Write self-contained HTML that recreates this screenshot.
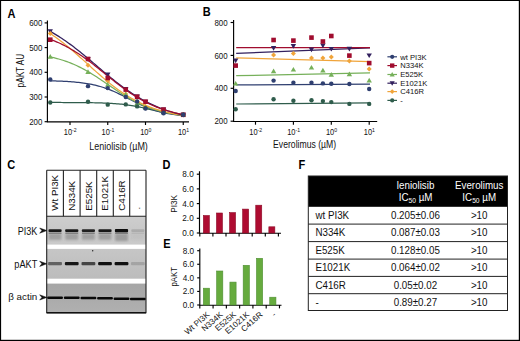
<!DOCTYPE html>
<html><head><meta charset="utf-8"><style>
html,body{margin:0;padding:0;background:#fff;}
body{width:520px;height:341px;overflow:hidden;}
svg{display:block;font-family:"Liberation Sans", sans-serif;}

</style></head><body>
<svg width="520" height="341" viewBox="0 0 520 341" font-family='"Liberation Sans", sans-serif'>
<rect x="0" y="0" width="520" height="341" fill="#fff"/>
<defs><filter id="bl" x="-20%" y="-80%" width="140%" height="260%"><feGaussianBlur stdDeviation="0.6"/></filter><filter id="bl2" x="-20%" y="-80%" width="140%" height="260%"><feGaussianBlur stdDeviation="1.1"/></filter><linearGradient id="g1" x1="0" y1="0" x2="0" y2="1"><stop offset="0" stop-color="#cecece"/><stop offset="0.6" stop-color="#c6c6c6"/><stop offset="1" stop-color="#cacaca"/></linearGradient><linearGradient id="g2" x1="0" y1="0" x2="0" y2="1"><stop offset="0" stop-color="#c6c6c6"/><stop offset="1" stop-color="#bcbcbc"/></linearGradient><linearGradient id="g3" x1="0" y1="0" x2="0" y2="1"><stop offset="0" stop-color="#a6a6a6"/><stop offset="1" stop-color="#b0b0b0"/></linearGradient></defs>
<text transform="translate(7.5,17.5) scale(0.92,1)" font-size="12" font-weight="bold" fill="#000">A</text>
<text transform="translate(202.8,16.0) scale(0.92,1)" font-size="12" font-weight="bold" fill="#000">B</text>
<text transform="translate(7.2,168.8) scale(0.92,1)" font-size="12" font-weight="bold" fill="#000">C</text>
<text transform="translate(162.4,168.9) scale(0.92,1)" font-size="12" font-weight="bold" fill="#000">D</text>
<text transform="translate(163.3,248.2) scale(0.92,1)" font-size="12" font-weight="bold" fill="#000">E</text>
<text transform="translate(298.4,169.0) scale(0.92,1)" font-size="12" font-weight="bold" fill="#000">F</text>
<g stroke="#000" stroke-width="1.15" fill="none">
<path d="M47.4,20.4 V121.9 H189"/>
<path d="M44.6,22.90 H47.4"/>
<path d="M44.6,47.60 H47.4"/>
<path d="M44.6,72.30 H47.4"/>
<path d="M44.6,97.00 H47.4"/>
<path d="M44.6,121.70 H47.4"/>
<path d="M70.00,121.9 V125.0"/>
<path d="M107.75,121.9 V125.0"/>
<path d="M145.50,121.9 V125.0"/>
<path d="M183.25,121.9 V125.0"/>
</g>
<text transform="translate(42.40,26.00) scale(0.92,1)" font-size="8.6" fill="#111" text-anchor="end">600</text>
<text transform="translate(42.40,50.70) scale(0.92,1)" font-size="8.6" fill="#111" text-anchor="end">500</text>
<text transform="translate(42.40,75.40) scale(0.92,1)" font-size="8.6" fill="#111" text-anchor="end">400</text>
<text transform="translate(42.40,100.10) scale(0.92,1)" font-size="8.6" fill="#111" text-anchor="end">300</text>
<text transform="translate(42.40,124.80) scale(0.92,1)" font-size="8.6" fill="#111" text-anchor="end">200</text>
<text transform="translate(70.20,135.1) scale(0.9,1)" font-size="8.3" fill="#111" text-anchor="middle">10<tspan font-size="5.7" dy="-3.3">-2</tspan></text>
<text transform="translate(107.95,135.1) scale(0.9,1)" font-size="8.3" fill="#111" text-anchor="middle">10<tspan font-size="5.7" dy="-3.3">-1</tspan></text>
<text transform="translate(145.70,135.1) scale(0.9,1)" font-size="8.3" fill="#111" text-anchor="middle">10<tspan font-size="5.7" dy="-3.3">0</tspan></text>
<text transform="translate(183.45,135.1) scale(0.9,1)" font-size="8.3" fill="#111" text-anchor="middle">10<tspan font-size="5.7" dy="-3.3">1</tspan></text>
<text x="118.6" y="149.5" font-size="10.2" fill="#111" text-anchor="middle" textLength="58.5" lengthAdjust="spacingAndGlyphs">Leniolisib (µM)</text>
<text transform="translate(24.0,70.6) rotate(-90)" font-size="10.3" fill="#111" text-anchor="middle" textLength="33.6" lengthAdjust="spacingAndGlyphs">pAKT AU</text>
<path d="M50.37,102.48 L52.03,102.48 L53.69,102.48 L55.35,102.48 L57.01,102.49 L58.68,102.49 L60.34,102.49 L62.00,102.50 L63.66,102.50 L65.32,102.51 L66.98,102.51 L68.64,102.52 L70.30,102.52 L71.96,102.53 L73.62,102.54 L75.28,102.55 L76.95,102.56 L78.61,102.57 L80.27,102.58 L81.93,102.59 L83.59,102.61 L85.25,102.63 L86.91,102.65 L88.57,102.67 L90.23,102.69 L91.90,102.72 L93.56,102.75 L95.22,102.78 L96.88,102.82 L98.54,102.86 L100.20,102.91 L101.86,102.96 L103.52,103.02 L105.18,103.08 L106.84,103.15 L108.50,103.23 L110.17,103.32 L111.83,103.42 L113.49,103.52 L115.15,103.64 L116.81,103.77 L118.47,103.91 L120.13,104.06 L121.79,104.23 L123.45,104.41 L125.11,104.61 L126.78,104.83 L128.44,105.06 L130.10,105.31 L131.76,105.57 L133.42,105.85 L135.08,106.15 L136.74,106.47 L138.40,106.80 L140.06,107.15 L141.72,107.50 L143.39,107.87 L145.05,108.25 L146.71,108.64 L148.37,109.03 L150.03,109.42 L151.69,109.81 L153.35,110.20 L155.01,110.58 L156.67,110.95 L158.34,111.32 L160.00,111.67 L161.66,112.01 L163.32,112.34 L164.98,112.65 L166.64,112.94 L168.30,113.22 L169.96,113.48 L171.62,113.72 L173.28,113.95 L174.94,114.16 L176.61,114.35 L178.27,114.53 L179.93,114.69 L181.59,114.84 L183.25,114.98" stroke="#2f5c4c" stroke-width="1.25" fill="none"/>
<path d="M50.37,80.82 L52.03,80.86 L53.69,80.91 L55.35,80.96 L57.01,81.02 L58.68,81.08 L60.34,81.14 L62.00,81.22 L63.66,81.30 L65.32,81.38 L66.98,81.48 L68.64,81.58 L70.30,81.70 L71.96,81.82 L73.62,81.96 L75.28,82.10 L76.95,82.26 L78.61,82.44 L80.27,82.62 L81.93,82.83 L83.59,83.05 L85.25,83.29 L86.91,83.55 L88.57,83.84 L90.23,84.14 L91.90,84.47 L93.56,84.82 L95.22,85.20 L96.88,85.60 L98.54,86.03 L100.20,86.50 L101.86,86.99 L103.52,87.51 L105.18,88.06 L106.84,88.65 L108.50,89.26 L110.17,89.91 L111.83,90.58 L113.49,91.29 L115.15,92.02 L116.81,92.78 L118.47,93.56 L120.13,94.36 L121.79,95.18 L123.45,96.01 L125.11,96.86 L126.78,97.72 L128.44,98.58 L130.10,99.44 L131.76,100.30 L133.42,101.15 L135.08,101.99 L136.74,102.82 L138.40,103.63 L140.06,104.42 L141.72,105.20 L143.39,105.94 L145.05,106.66 L146.71,107.35 L148.37,108.01 L150.03,108.65 L151.69,109.25 L153.35,109.82 L155.01,110.36 L156.67,110.87 L158.34,111.35 L160.00,111.80 L161.66,112.22 L163.32,112.61 L164.98,112.98 L166.64,113.32 L168.30,113.63 L169.96,113.93 L171.62,114.20 L173.28,114.45 L174.94,114.69 L176.61,114.90 L178.27,115.10 L179.93,115.28 L181.59,115.45 L183.25,115.60" stroke="#2f3f70" stroke-width="1.25" fill="none"/>
<path d="M50.37,56.95 L52.03,57.31 L53.69,57.70 L55.35,58.11 L57.01,58.54 L58.68,59.00 L60.34,59.48 L62.00,59.98 L63.66,60.52 L65.32,61.08 L66.98,61.66 L68.64,62.28 L70.30,62.92 L71.96,63.59 L73.62,64.29 L75.28,65.02 L76.95,65.78 L78.61,66.58 L80.27,67.40 L81.93,68.25 L83.59,69.12 L85.25,70.03 L86.91,70.97 L88.57,71.93 L90.23,72.91 L91.90,73.93 L93.56,74.96 L95.22,76.01 L96.88,77.09 L98.54,78.17 L100.20,79.28 L101.86,80.40 L103.52,81.52 L105.18,82.66 L106.84,83.80 L108.50,84.94 L110.17,86.08 L111.83,87.22 L113.49,88.35 L115.15,89.47 L116.81,90.59 L118.47,91.69 L120.13,92.77 L121.79,93.84 L123.45,94.89 L125.11,95.92 L126.78,96.92 L128.44,97.90 L130.10,98.86 L131.76,99.79 L133.42,100.69 L135.08,101.56 L136.74,102.40 L138.40,103.21 L140.06,104.00 L141.72,104.75 L143.39,105.47 L145.05,106.17 L146.71,106.83 L148.37,107.47 L150.03,108.08 L151.69,108.65 L153.35,109.21 L155.01,109.73 L156.67,110.23 L158.34,110.71 L160.00,111.16 L161.66,111.58 L163.32,111.99 L164.98,112.37 L166.64,112.73 L168.30,113.07 L169.96,113.40 L171.62,113.70 L173.28,113.99 L174.94,114.26 L176.61,114.51 L178.27,114.75 L179.93,114.98 L181.59,115.19 L183.25,115.39" stroke="#76b05a" stroke-width="1.25" fill="none"/>
<path d="M50.37,33.72 L52.03,34.82 L53.69,35.94 L55.35,37.10 L57.01,38.28 L58.68,39.50 L60.34,40.74 L62.00,42.01 L63.66,43.30 L65.32,44.62 L66.98,45.96 L68.64,47.33 L70.30,48.72 L71.96,50.13 L73.62,51.55 L75.28,53.00 L76.95,54.45 L78.61,55.93 L80.27,57.41 L81.93,58.90 L83.59,60.40 L85.25,61.90 L86.91,63.40 L88.57,64.91 L90.23,66.41 L91.90,67.92 L93.56,69.41 L95.22,70.90 L96.88,72.38 L98.54,73.84 L100.20,75.30 L101.86,76.73 L103.52,78.15 L105.18,79.55 L106.84,80.93 L108.50,82.29 L110.17,83.63 L111.83,84.94 L113.49,86.22 L115.15,87.48 L116.81,88.71 L118.47,89.92 L120.13,91.09 L121.79,92.23 L123.45,93.35 L125.11,94.43 L126.78,95.48 L128.44,96.50 L130.10,97.50 L131.76,98.46 L133.42,99.39 L135.08,100.29 L136.74,101.15 L138.40,101.99 L140.06,102.80 L141.72,103.58 L143.39,104.34 L145.05,105.06 L146.71,105.76 L148.37,106.43 L150.03,107.07 L151.69,107.69 L153.35,108.28 L155.01,108.85 L156.67,109.40 L158.34,109.92 L160.00,110.42 L161.66,110.90 L163.32,111.36 L164.98,111.79 L166.64,112.21 L168.30,112.61 L169.96,113.00 L171.62,113.36 L173.28,113.71 L174.94,114.04 L176.61,114.36 L178.27,114.66 L179.93,114.95 L181.59,115.23 L183.25,115.49" stroke="#f0a43a" stroke-width="1.25" fill="none"/>
<path d="M50.37,31.45 L52.03,32.39 L53.69,33.35 L55.35,34.34 L57.01,35.35 L58.68,36.39 L60.34,37.46 L62.00,38.55 L63.66,39.67 L65.32,40.81 L66.98,41.98 L68.64,43.17 L70.30,44.38 L71.96,45.61 L73.62,46.87 L75.28,48.15 L76.95,49.44 L78.61,50.75 L80.27,52.08 L81.93,53.43 L83.59,54.78 L85.25,56.16 L86.91,57.54 L88.57,58.93 L90.23,60.33 L91.90,61.73 L93.56,63.14 L95.22,64.56 L96.88,65.97 L98.54,67.38 L100.20,68.80 L101.86,70.20 L103.52,71.61 L105.18,73.00 L106.84,74.39 L108.50,75.76 L110.17,77.13 L111.83,78.48 L113.49,79.81 L115.15,81.13 L116.81,82.44 L118.47,83.72 L120.13,84.99 L121.79,86.23 L123.45,87.45 L125.11,88.66 L126.78,89.83 L128.44,90.99 L130.10,92.11 L131.76,93.22 L133.42,94.30 L135.08,95.35 L136.74,96.38 L138.40,97.38 L140.06,98.35 L141.72,99.30 L143.39,100.22 L145.05,101.11 L146.71,101.98 L148.37,102.82 L150.03,103.63 L151.69,104.42 L153.35,105.18 L155.01,105.92 L156.67,106.63 L158.34,107.32 L160.00,107.99 L161.66,108.63 L163.32,109.25 L164.98,109.85 L166.64,110.42 L168.30,110.97 L169.96,111.50 L171.62,112.02 L173.28,112.51 L174.94,112.98 L176.61,113.44 L178.27,113.87 L179.93,114.29 L181.59,114.69 L183.25,115.08" stroke="#32205e" stroke-width="1.25" fill="none"/>
<path d="M50.37,39.44 L52.03,40.06 L53.69,40.70 L55.35,41.37 L57.01,42.07 L58.68,42.79 L60.34,43.55 L62.00,44.33 L63.66,45.15 L65.32,45.99 L66.98,46.87 L68.64,47.77 L70.30,48.70 L71.96,49.67 L73.62,50.66 L75.28,51.68 L76.95,52.73 L78.61,53.81 L80.27,54.92 L81.93,56.05 L83.59,57.21 L85.25,58.39 L86.91,59.60 L88.57,60.83 L90.23,62.07 L91.90,63.34 L93.56,64.62 L95.22,65.92 L96.88,67.23 L98.54,68.55 L100.20,69.89 L101.86,71.22 L103.52,72.56 L105.18,73.91 L106.84,75.25 L108.50,76.59 L110.17,77.93 L111.83,79.26 L113.49,80.58 L115.15,81.89 L116.81,83.19 L118.47,84.47 L120.13,85.73 L121.79,86.98 L123.45,88.21 L125.11,89.41 L126.78,90.59 L128.44,91.75 L130.10,92.88 L131.76,93.98 L133.42,95.06 L135.08,96.11 L136.74,97.12 L138.40,98.11 L140.06,99.08 L141.72,100.01 L143.39,100.91 L145.05,101.78 L146.71,102.62 L148.37,103.43 L150.03,104.21 L151.69,104.96 L153.35,105.69 L155.01,106.38 L156.67,107.05 L158.34,107.69 L160.00,108.30 L161.66,108.89 L163.32,109.46 L164.98,109.99 L166.64,110.51 L168.30,111.00 L169.96,111.47 L171.62,111.92 L173.28,112.34 L174.94,112.75 L176.61,113.14 L178.27,113.50 L179.93,113.86 L181.59,114.19 L183.25,114.51" stroke="#a00c2e" stroke-width="1.25" fill="none"/>
<path d="M50.26,34.00 L52.96,29.27 L47.56,29.27Z" fill="#32205e"/>
<path d="M88.01,61.66 L90.71,56.94 L85.31,56.94Z" fill="#32205e"/>
<path d="M107.75,77.22 L110.45,72.50 L105.05,72.50Z" fill="#32205e"/>
<path d="M125.76,91.80 L128.46,87.07 L123.06,87.07Z" fill="#32205e"/>
<path d="M137.13,99.21 L139.83,94.48 L134.43,94.48Z" fill="#32205e"/>
<path d="M145.50,104.39 L148.20,99.67 L142.80,99.67Z" fill="#32205e"/>
<path d="M163.51,112.30 L166.21,107.57 L160.81,107.57Z" fill="#32205e"/>
<path d="M183.25,117.48 L185.95,112.76 L180.55,112.76Z" fill="#32205e"/>
<path d="M50.26,31.02 L52.76,33.52 L50.26,36.02 L47.76,33.52Z" fill="#f0a43a"/>
<path d="M88.01,62.64 L90.51,65.14 L88.01,67.64 L85.51,65.14Z" fill="#f0a43a"/>
<path d="M107.75,78.44 L110.25,80.94 L107.75,83.44 L105.25,80.94Z" fill="#f0a43a"/>
<path d="M125.76,91.54 L128.26,94.04 L125.76,96.54 L123.26,94.04Z" fill="#f0a43a"/>
<path d="M137.13,98.95 L139.63,101.45 L137.13,103.95 L134.63,101.45Z" fill="#f0a43a"/>
<path d="M145.50,103.89 L148.00,106.39 L145.50,108.89 L143.00,106.39Z" fill="#f0a43a"/>
<path d="M163.51,109.32 L166.01,111.82 L163.51,114.32 L161.01,111.82Z" fill="#f0a43a"/>
<path d="M183.25,112.28 L185.75,114.78 L183.25,117.28 L180.75,114.78Z" fill="#f0a43a"/>
<path d="M50.26,54.04 L52.96,58.76 L47.56,58.76Z" fill="#76b05a"/>
<path d="M88.01,69.35 L90.71,74.08 L85.31,74.08Z" fill="#76b05a"/>
<path d="M107.75,81.95 L110.45,86.68 L105.05,86.68Z" fill="#76b05a"/>
<path d="M125.76,91.83 L128.46,96.56 L123.06,96.56Z" fill="#76b05a"/>
<path d="M137.13,100.48 L139.83,105.20 L134.43,105.20Z" fill="#76b05a"/>
<path d="M145.50,104.67 L148.20,109.40 L142.80,109.40Z" fill="#76b05a"/>
<path d="M163.51,109.61 L166.21,114.34 L160.81,114.34Z" fill="#76b05a"/>
<path d="M183.25,112.08 L185.95,116.81 L180.55,116.81Z" fill="#76b05a"/>
<rect x="47.96" y="37.40" width="4.60" height="4.60" fill="#a00c2e"/>
<rect x="85.71" y="56.66" width="4.60" height="4.60" fill="#a00c2e"/>
<rect x="105.45" y="75.68" width="4.60" height="4.60" fill="#a00c2e"/>
<rect x="123.46" y="87.29" width="4.60" height="4.60" fill="#a00c2e"/>
<rect x="134.83" y="94.45" width="4.60" height="4.60" fill="#a00c2e"/>
<rect x="143.20" y="99.39" width="4.60" height="4.60" fill="#a00c2e"/>
<rect x="161.21" y="107.30" width="4.60" height="4.60" fill="#a00c2e"/>
<rect x="180.95" y="112.48" width="4.60" height="4.60" fill="#a00c2e"/>
<circle cx="50.26" cy="102.43" r="2.20" fill="#2f5c4c"/>
<circle cx="88.01" cy="101.69" r="2.20" fill="#2f5c4c"/>
<circle cx="107.75" cy="104.66" r="2.20" fill="#2f5c4c"/>
<circle cx="125.76" cy="104.41" r="2.20" fill="#2f5c4c"/>
<circle cx="137.13" cy="106.39" r="2.20" fill="#2f5c4c"/>
<circle cx="145.50" cy="108.12" r="2.20" fill="#2f5c4c"/>
<circle cx="163.51" cy="112.81" r="2.20" fill="#2f5c4c"/>
<circle cx="183.25" cy="114.78" r="2.20" fill="#2f5c4c"/>
<circle cx="50.26" cy="79.46" r="2.20" fill="#2f3f70"/>
<circle cx="88.01" cy="86.13" r="2.20" fill="#2f3f70"/>
<circle cx="107.75" cy="88.11" r="2.20" fill="#2f3f70"/>
<circle cx="125.76" cy="97.00" r="2.20" fill="#2f3f70"/>
<circle cx="137.13" cy="101.45" r="2.20" fill="#2f3f70"/>
<circle cx="145.50" cy="108.61" r="2.20" fill="#2f3f70"/>
<circle cx="163.51" cy="113.30" r="2.20" fill="#2f3f70"/>
<circle cx="183.25" cy="114.78" r="2.20" fill="#2f3f70"/>
<g stroke="#000" stroke-width="1.15" fill="none">
<path d="M233.6,19.9 V121.5 H377.2"/>
<path d="M230.6,22.50 H233.6"/>
<path d="M230.6,55.40 H233.6"/>
<path d="M230.6,88.30 H233.6"/>
<path d="M230.6,121.20 H233.6"/>
<path d="M255.50,121.5 V124.7"/>
<path d="M293.40,121.5 V124.7"/>
<path d="M331.30,121.5 V124.7"/>
<path d="M369.20,121.5 V124.7"/>
</g>
<text transform="translate(227.60,25.60) scale(0.92,1)" font-size="8.6" fill="#111" text-anchor="end">800</text>
<text transform="translate(227.60,58.50) scale(0.92,1)" font-size="8.6" fill="#111" text-anchor="end">600</text>
<text transform="translate(227.60,91.40) scale(0.92,1)" font-size="8.6" fill="#111" text-anchor="end">400</text>
<text transform="translate(227.60,124.30) scale(0.92,1)" font-size="8.6" fill="#111" text-anchor="end">200</text>
<text transform="translate(255.70,135.0) scale(0.9,1)" font-size="8.3" fill="#111" text-anchor="middle">10<tspan font-size="5.7" dy="-3.3">-2</tspan></text>
<text transform="translate(293.60,135.0) scale(0.9,1)" font-size="8.3" fill="#111" text-anchor="middle">10<tspan font-size="5.7" dy="-3.3">-1</tspan></text>
<text transform="translate(331.50,135.0) scale(0.9,1)" font-size="8.3" fill="#111" text-anchor="middle">10<tspan font-size="5.7" dy="-3.3">0</tspan></text>
<text transform="translate(369.40,135.0) scale(0.9,1)" font-size="8.3" fill="#111" text-anchor="middle">10<tspan font-size="5.7" dy="-3.3">1</tspan></text>
<text x="304.6" y="147.9" font-size="10.2" fill="#111" text-anchor="middle" textLength="63" lengthAdjust="spacingAndGlyphs">Everolimus (µM)</text>
<path d="M236.2,104.0 L370.0,102.9" stroke="#2f5c4c" stroke-width="1.25" fill="none"/>
<path d="M236.2,84.9 L370.0,84.2" stroke="#2f3f70" stroke-width="1.25" fill="none"/>
<path d="M236.2,75.7 L370.0,72.8" stroke="#76b05a" stroke-width="1.25" fill="none"/>
<path d="M236.2,57.8 L370.0,61.6" stroke="#f0a43a" stroke-width="1.25" fill="none"/>
<path d="M236.2,53.3 L370.0,47.9" stroke="#32205e" stroke-width="1.25" fill="none"/>
<path d="M236.2,47.6 L370.0,47.6" stroke="#a00c2e" stroke-width="1.25" fill="none"/>
<circle cx="235.68" cy="109.20" r="2.20" fill="#2f5c4c"/>
<circle cx="273.58" cy="99.20" r="2.20" fill="#2f5c4c"/>
<circle cx="293.40" cy="100.70" r="2.20" fill="#2f5c4c"/>
<circle cx="311.48" cy="100.20" r="2.20" fill="#2f5c4c"/>
<circle cx="322.89" cy="101.10" r="2.20" fill="#2f5c4c"/>
<circle cx="331.30" cy="102.10" r="2.20" fill="#2f5c4c"/>
<circle cx="349.38" cy="103.90" r="2.20" fill="#2f5c4c"/>
<circle cx="369.20" cy="103.90" r="2.20" fill="#2f5c4c"/>
<circle cx="235.68" cy="91.00" r="2.20" fill="#2f3f70"/>
<circle cx="273.58" cy="80.60" r="2.20" fill="#2f3f70"/>
<circle cx="293.40" cy="82.80" r="2.20" fill="#2f3f70"/>
<circle cx="311.48" cy="82.70" r="2.20" fill="#2f3f70"/>
<circle cx="322.89" cy="83.40" r="2.20" fill="#2f3f70"/>
<circle cx="331.30" cy="83.70" r="2.20" fill="#2f3f70"/>
<circle cx="349.38" cy="84.00" r="2.20" fill="#2f3f70"/>
<circle cx="369.20" cy="89.00" r="2.20" fill="#2f3f70"/>
<path d="M235.68,80.90 L238.38,85.62 L232.98,85.62Z" fill="#76b05a"/>
<path d="M273.58,68.50 L276.28,73.23 L270.88,73.23Z" fill="#76b05a"/>
<path d="M293.40,66.90 L296.10,71.62 L290.70,71.62Z" fill="#76b05a"/>
<path d="M311.48,64.90 L314.18,69.62 L308.78,69.62Z" fill="#76b05a"/>
<path d="M322.89,67.80 L325.59,72.53 L320.19,72.53Z" fill="#76b05a"/>
<path d="M331.30,72.00 L334.00,76.73 L328.60,76.73Z" fill="#76b05a"/>
<path d="M349.38,71.60 L352.08,76.33 L346.68,76.33Z" fill="#76b05a"/>
<path d="M369.20,77.80 L371.90,82.53 L366.50,82.53Z" fill="#76b05a"/>
<path d="M273.58,52.50 L276.08,55.00 L273.58,57.50 L271.08,55.00Z" fill="#f0a43a"/>
<path d="M293.40,51.00 L295.90,53.50 L293.40,56.00 L290.90,53.50Z" fill="#f0a43a"/>
<path d="M311.48,55.40 L313.98,57.90 L311.48,60.40 L308.98,57.90Z" fill="#f0a43a"/>
<path d="M322.89,55.40 L325.39,57.90 L322.89,60.40 L320.39,57.90Z" fill="#f0a43a"/>
<path d="M331.30,54.40 L333.80,56.90 L331.30,59.40 L328.80,56.90Z" fill="#f0a43a"/>
<path d="M349.38,58.60 L351.88,61.10 L349.38,63.60 L346.88,61.10Z" fill="#f0a43a"/>
<path d="M369.20,66.60 L371.70,69.10 L369.20,71.60 L366.70,69.10Z" fill="#f0a43a"/>
<path d="M235.68,63.20 L238.38,58.48 L232.98,58.48Z" fill="#32205e"/>
<path d="M273.58,50.70 L276.28,45.98 L270.88,45.98Z" fill="#32205e"/>
<path d="M293.40,48.70 L296.10,43.98 L290.70,43.98Z" fill="#32205e"/>
<path d="M311.48,52.20 L314.18,47.48 L308.78,47.48Z" fill="#32205e"/>
<path d="M322.89,48.20 L325.59,43.48 L320.19,43.48Z" fill="#32205e"/>
<path d="M331.30,51.60 L334.00,46.88 L328.60,46.88Z" fill="#32205e"/>
<path d="M349.38,51.40 L352.08,46.68 L346.68,46.68Z" fill="#32205e"/>
<path d="M369.20,58.10 L371.90,53.38 L366.50,53.38Z" fill="#32205e"/>
<rect x="233.38" y="63.30" width="4.60" height="4.60" fill="#a00c2e"/>
<rect x="271.28" y="37.70" width="4.60" height="4.60" fill="#a00c2e"/>
<rect x="291.10" y="38.30" width="4.60" height="4.60" fill="#a00c2e"/>
<rect x="309.18" y="35.30" width="4.60" height="4.60" fill="#a00c2e"/>
<rect x="320.59" y="39.20" width="4.60" height="4.60" fill="#a00c2e"/>
<rect x="329.00" y="33.70" width="4.60" height="4.60" fill="#a00c2e"/>
<rect x="347.08" y="53.30" width="4.60" height="4.60" fill="#a00c2e"/>
<rect x="366.90" y="60.80" width="4.60" height="4.60" fill="#a00c2e"/>
<path d="M387.4,56.8 H397" stroke="#2f3f70" stroke-width="1.2"/>
<circle cx="392.20" cy="56.80" r="2.09" fill="#2f3f70"/>
<text x="400.3" y="59.50" font-size="7.6" fill="#111">wt PI3K</text>
<path d="M387.4,65.6 H397" stroke="#a00c2e" stroke-width="1.2"/>
<rect x="390.01" y="63.41" width="4.37" height="4.37" fill="#a00c2e"/>
<text x="400.3" y="68.30" font-size="7.6" fill="#111">N334K</text>
<path d="M387.4,74.5 H397" stroke="#76b05a" stroke-width="1.2"/>
<path d="M392.20,71.94 L394.76,76.42 L389.63,76.42Z" fill="#76b05a"/>
<text x="400.3" y="77.20" font-size="7.6" fill="#111">E525K</text>
<path d="M387.4,83.2 H397" stroke="#32205e" stroke-width="1.2"/>
<path d="M392.20,85.77 L394.76,81.28 L389.63,81.28Z" fill="#32205e"/>
<text x="400.3" y="85.90" font-size="7.6" fill="#111">E1021K</text>
<path d="M387.4,91.6 H397" stroke="#f0a43a" stroke-width="1.2"/>
<path d="M392.20,89.22 L394.57,91.60 L392.20,93.97 L389.82,91.60Z" fill="#f0a43a"/>
<text x="400.3" y="94.30" font-size="7.6" fill="#111">C416R</text>
<path d="M387.4,100.4 H397" stroke="#2f5c4c" stroke-width="1.2"/>
<circle cx="392.20" cy="100.40" r="2.09" fill="#2f5c4c"/>
<text x="400.3" y="103.10" font-size="7.6" fill="#111">-</text>
<rect x="46.7" y="216.3" width="99.3" height="28.3" fill="url(#g1)"/>
<rect x="46.7" y="248.9" width="99.3" height="29.8" fill="url(#g2)"/>
<rect x="46.7" y="283.6" width="99.3" height="29.0" fill="url(#g3)"/>
<g filter="url(#bl)">
<rect x="48.45" y="229.20" width="13.2" height="2.8" fill="#111" opacity="0.95" rx="1"/>
<rect x="65.15" y="229.20" width="13.2" height="2.8" fill="#111" opacity="0.95" rx="1"/>
<rect x="81.80" y="229.20" width="13.2" height="2.8" fill="#111" opacity="0.9" rx="1"/>
<rect x="98.40" y="229.20" width="13.2" height="2.8" fill="#111" opacity="0.95" rx="1"/>
<rect x="114.90" y="228.90" width="13.2" height="3.4" fill="#111" opacity="1.0" rx="1"/>
<rect x="131.25" y="229.20" width="13.2" height="2.8" fill="#111" opacity="0.14" rx="1"/>
</g>
<g filter="url(#bl)">
<rect x="48.65" y="232.4" width="12.8" height="1.6" fill="#333" opacity="0.43"/>
<rect x="65.35" y="232.4" width="12.8" height="1.6" fill="#333" opacity="0.43"/>
<rect x="82.00" y="232.4" width="12.8" height="1.6" fill="#333" opacity="0.41"/>
<rect x="98.60" y="232.4" width="12.8" height="1.6" fill="#333" opacity="0.43"/>
<rect x="115.10" y="232.4" width="12.8" height="1.6" fill="#333" opacity="0.45"/>
<rect x="131.45" y="232.4" width="12.8" height="1.6" fill="#333" opacity="0.06"/>
</g>
<g filter="url(#bl2)">
<rect x="48.65" y="233.6" width="12.8" height="6.2" fill="#555" opacity="0.36"/>
<rect x="65.35" y="233.6" width="12.8" height="6.2" fill="#555" opacity="0.36"/>
<rect x="82.00" y="233.6" width="12.8" height="6.2" fill="#555" opacity="0.34"/>
<rect x="98.60" y="233.6" width="12.8" height="6.2" fill="#555" opacity="0.36"/>
<rect x="115.10" y="233.6" width="12.8" height="7.5" fill="#555" opacity="0.38"/>
<rect x="131.45" y="233.6" width="12.8" height="6.2" fill="#555" opacity="0.05"/>
</g>
<g filter="url(#bl)">
<rect x="48.15" y="262.1" width="13.8" height="3.1" fill="#111" opacity="0.55" rx="1"/>
<rect x="64.85" y="262.1" width="13.8" height="3.1" fill="#111" opacity="0.95" rx="1"/>
<rect x="81.50" y="262.1" width="13.8" height="3.1" fill="#111" opacity="0.7" rx="1"/>
<rect x="98.10" y="262.1" width="13.8" height="3.1" fill="#111" opacity="0.98" rx="1"/>
<rect x="114.60" y="262.1" width="13.8" height="3.1" fill="#111" opacity="0.98" rx="1"/>
<rect x="130.95" y="262.1" width="13.8" height="3.1" fill="#111" opacity="0.15" rx="1"/>
</g>
<g filter="url(#bl)">
<rect x="47.15" y="296.60" width="15.8" height="2.5" fill="#000" opacity="0.95" rx="1"/>
<rect x="63.85" y="296.60" width="15.8" height="2.5" fill="#000" opacity="0.95" rx="1"/>
<rect x="80.50" y="296.80" width="15.8" height="2.5" fill="#000" opacity="0.95" rx="1"/>
<rect x="97.10" y="297.00" width="15.8" height="2.5" fill="#000" opacity="0.95" rx="1"/>
<rect x="113.60" y="297.40" width="15.8" height="2.5" fill="#000" opacity="0.95" rx="1"/>
<rect x="129.95" y="297.70" width="15.8" height="2.5" fill="#000" opacity="0.95" rx="1"/>
</g>
<circle cx="92.7" cy="250.8" r="0.7" fill="#222" filter="url(#bl)"/>
<g stroke="#222" stroke-width="1.1" fill="none">
<path d="M46.7,170.3 H146.0"/>
<path d="M46.7,216.3 H146.0"/>
<path d="M63.4,170.3 V216.3"/>
<path d="M80.1,170.3 V216.3"/>
<path d="M96.7,170.3 V216.3"/>
<path d="M113.3,170.3 V216.3"/>
<path d="M129.7,170.3 V216.3"/>
<path d="M46.7,170.3 V312.6 H146.0 V170.3"/>
<path d="M46.7,312.7 H146.0" stroke="#111" stroke-width="1.4"/>
</g>
<text transform="translate(58.25,210.8) rotate(-90)" font-size="9.8" fill="#111">Wt PI3K</text>
<text transform="translate(74.95,210.8) rotate(-90)" font-size="9.8" fill="#111">N334K</text>
<text transform="translate(91.60,210.8) rotate(-90)" font-size="9.8" fill="#111">E525K</text>
<text transform="translate(108.20,210.8) rotate(-90)" font-size="9.8" fill="#111">E1021K</text>
<text transform="translate(124.70,210.8) rotate(-90)" font-size="9.8" fill="#111">C416R</text>
<text transform="translate(139.85,209.6) rotate(-90)" font-size="9.5" fill="#111">.</text>
<text x="37.3" y="234.6" font-size="10" fill="#111" text-anchor="end" textLength="19.6" lengthAdjust="spacingAndGlyphs">PI3K</text>
<path d="M39.70,228.00 L46.80,230.60 L39.70,233.20 L41.90,230.60Z" fill="#111" stroke="#111" stroke-width="0.5" stroke-linejoin="round"/>
<text x="37.3" y="267.5" font-size="10" fill="#111" text-anchor="end" textLength="23" lengthAdjust="spacingAndGlyphs">pAKT</text>
<path d="M39.70,261.20 L46.80,263.80 L39.70,266.40 L41.90,263.80Z" fill="#111" stroke="#111" stroke-width="0.5" stroke-linejoin="round"/>
<text x="37.3" y="300.0" font-size="9.8" fill="#111" text-anchor="end">β actin</text>
<path d="M39.70,294.80 L46.80,297.40 L39.70,300.00 L41.90,297.40Z" fill="#111" stroke="#111" stroke-width="0.5" stroke-linejoin="round"/>
<g stroke="#000" stroke-width="1.15" fill="none">
<path d="M199.5,171.2 V233.2 H281"/>
<path d="M196.8,233.00 H199.4"/>
<path d="M196.8,218.30 H199.4"/>
<path d="M196.8,203.60 H199.4"/>
<path d="M196.8,188.90 H199.4"/>
<path d="M196.8,174.20 H199.4"/>
<path d="M199.80,233 V236.5"/>
<path d="M212.90,233 V236.5"/>
<path d="M226.00,233 V236.5"/>
<path d="M239.10,233 V236.5"/>
<path d="M252.20,233 V236.5"/>
<path d="M265.30,233 V236.5"/>
<path d="M278.40,233 V236.5"/>
</g>
<text transform="translate(193.70,236.00) scale(1.0,1)" font-size="8.2" fill="#111" text-anchor="end">0.0</text>
<text transform="translate(193.70,221.30) scale(1.0,1)" font-size="8.2" fill="#111" text-anchor="end">2.0</text>
<text transform="translate(193.70,206.60) scale(1.0,1)" font-size="8.2" fill="#111" text-anchor="end">4.0</text>
<text transform="translate(193.70,191.90) scale(1.0,1)" font-size="8.2" fill="#111" text-anchor="end">6.0</text>
<text transform="translate(193.70,177.20) scale(1.0,1)" font-size="8.2" fill="#111" text-anchor="end">8.0</text>
<text transform="translate(177.0,203.8) rotate(-90)" font-size="9.6" fill="#111" text-anchor="middle" textLength="17.8" lengthAdjust="spacingAndGlyphs">PI3K</text>
<rect x="203.35" y="215.50" width="6.0" height="17.50" fill="#ae0c31" stroke="#8c0a27" stroke-width="0.6"/>
<rect x="216.45" y="213.00" width="6.0" height="20.00" fill="#ae0c31" stroke="#8c0a27" stroke-width="0.6"/>
<rect x="229.55" y="212.60" width="6.0" height="20.40" fill="#ae0c31" stroke="#8c0a27" stroke-width="0.6"/>
<rect x="242.65" y="209.10" width="6.0" height="23.90" fill="#ae0c31" stroke="#8c0a27" stroke-width="0.6"/>
<rect x="255.75" y="205.20" width="6.0" height="27.80" fill="#ae0c31" stroke="#8c0a27" stroke-width="0.6"/>
<rect x="268.85" y="226.80" width="6.0" height="6.20" fill="#ae0c31" stroke="#8c0a27" stroke-width="0.6"/>
<g stroke="#000" stroke-width="1.15" fill="none">
<path d="M199.8,248.4 V305.2 H281.5"/>
<path d="M197.2,305.00 H199.8"/>
<path d="M197.2,291.43 H199.8"/>
<path d="M197.2,277.85 H199.8"/>
<path d="M197.2,264.27 H199.8"/>
<path d="M197.2,250.70 H199.8"/>
<path d="M199.80,305 V308.4"/>
<path d="M213.08,305 V308.4"/>
<path d="M226.36,305 V308.4"/>
<path d="M239.64,305 V308.4"/>
<path d="M252.92,305 V308.4"/>
<path d="M266.20,305 V308.4"/>
<path d="M279.48,305 V308.4"/>
</g>
<text transform="translate(194.10,308.00) scale(1.0,1)" font-size="8.2" fill="#111" text-anchor="end">0.0</text>
<text transform="translate(194.10,294.43) scale(1.0,1)" font-size="8.2" fill="#111" text-anchor="end">2.0</text>
<text transform="translate(194.10,280.85) scale(1.0,1)" font-size="8.2" fill="#111" text-anchor="end">4.0</text>
<text transform="translate(194.10,267.27) scale(1.0,1)" font-size="8.2" fill="#111" text-anchor="end">6.0</text>
<text transform="translate(194.10,253.70) scale(1.0,1)" font-size="8.2" fill="#111" text-anchor="end">8.0</text>
<text transform="translate(177.3,276.8) rotate(-90)" font-size="9.6" fill="#111" text-anchor="middle" textLength="19.6" lengthAdjust="spacingAndGlyphs">pAKT</text>
<rect x="203.34" y="288.20" width="6.2" height="16.80" fill="#66ab3e" stroke="#4f8f33" stroke-width="0.6"/>
<rect x="216.62" y="271.00" width="6.2" height="34.00" fill="#66ab3e" stroke="#4f8f33" stroke-width="0.6"/>
<rect x="229.90" y="282.10" width="6.2" height="22.90" fill="#66ab3e" stroke="#4f8f33" stroke-width="0.6"/>
<rect x="243.18" y="265.30" width="6.2" height="39.70" fill="#66ab3e" stroke="#4f8f33" stroke-width="0.6"/>
<rect x="256.46" y="258.30" width="6.2" height="46.70" fill="#66ab3e" stroke="#4f8f33" stroke-width="0.6"/>
<rect x="269.74" y="297.20" width="6.2" height="7.80" fill="#66ab3e" stroke="#4f8f33" stroke-width="0.6"/>
<text transform="translate(210.04,315.4) rotate(-41)" font-size="8.2" fill="#111" text-anchor="end">Wt PI3K</text>
<text transform="translate(223.32,315.4) rotate(-41)" font-size="8.2" fill="#111" text-anchor="end">N334K</text>
<text transform="translate(236.60,315.4) rotate(-41)" font-size="8.2" fill="#111" text-anchor="end">E525K</text>
<text transform="translate(249.88,315.4) rotate(-41)" font-size="8.2" fill="#111" text-anchor="end">E1021K</text>
<text transform="translate(263.16,315.4) rotate(-41)" font-size="8.2" fill="#111" text-anchor="end">C416R</text>
<text transform="translate(276.44,315.4) rotate(-41)" font-size="8.2" fill="#111" text-anchor="end">-</text>
<rect x="308.3" y="176.0" width="199.2" height="30.8" fill="#000"/>
<rect x="308.3" y="176.0" width="199.2" height="134.5" fill="none" stroke="#222" stroke-width="1"/>
<g stroke="#222" stroke-width="1">
<path d="M308.3,224.1 H507.5"/>
<path d="M308.3,241.6 H507.5"/>
<path d="M308.3,259.1 H507.5"/>
<path d="M308.3,276.4 H507.5"/>
<path d="M308.3,293.7 H507.5"/>
</g>
<g font-size="10.54" fill="#fff" text-anchor="middle">
<text transform="translate(415.6,188.9) scale(0.93,1)">leniolisib</text>
<text transform="translate(415.6,201.1) scale(0.93,1)">IC<tspan font-size="7.2" dy="2">50</tspan><tspan dy="-2"> µM</tspan></text>
<text transform="translate(479.2,188.9) scale(0.93,1)">Everolimus</text>
<text transform="translate(479.2,201.1) scale(0.93,1)">IC<tspan font-size="7.2" dy="2">50</tspan><tspan dy="-2"> µM</tspan></text>
</g>
<g font-size="10.54" fill="#111">
<text transform="translate(315.4,218.95) scale(0.93,1)">wt PI3K</text>
<text transform="translate(415.4,218.95) scale(0.93,1)" text-anchor="middle">0.205±0.06</text>
<text transform="translate(479.2,218.95) scale(0.93,1)" text-anchor="middle">&gt;10</text>
<text transform="translate(315.4,236.35) scale(0.93,1)">N334K</text>
<text transform="translate(415.4,236.35) scale(0.93,1)" text-anchor="middle">0.087±0.03</text>
<text transform="translate(479.2,236.35) scale(0.93,1)" text-anchor="middle">&gt;10</text>
<text transform="translate(315.4,253.85) scale(0.93,1)">E525K</text>
<text transform="translate(415.4,253.85) scale(0.93,1)" text-anchor="middle">0.128±0.05</text>
<text transform="translate(479.2,253.85) scale(0.93,1)" text-anchor="middle">&gt;10</text>
<text transform="translate(315.4,271.25) scale(0.93,1)">E1021K</text>
<text transform="translate(415.4,271.25) scale(0.93,1)" text-anchor="middle">0.064±0.02</text>
<text transform="translate(479.2,271.25) scale(0.93,1)" text-anchor="middle">&gt;10</text>
<text transform="translate(315.4,288.55) scale(0.93,1)">C416R</text>
<text transform="translate(415.4,288.55) scale(0.93,1)" text-anchor="middle">0.05±0.02</text>
<text transform="translate(479.2,288.55) scale(0.93,1)" text-anchor="middle">&gt;10</text>
<text transform="translate(315.4,305.60) scale(0.93,1)">-</text>
<text transform="translate(415.4,305.60) scale(0.93,1)" text-anchor="middle">0.89±0.27</text>
<text transform="translate(479.2,305.60) scale(0.93,1)" text-anchor="middle">&gt;10</text>
</g>
<rect x="0" y="0" width="520" height="1" fill="#000"/>
<rect x="0" y="0" width="1.1" height="341" fill="#000"/>
<rect x="518.8" y="0" width="1.2" height="341" fill="#000"/>
<rect x="0" y="339.8" width="520" height="1.2" fill="#000"/>
</svg>
</body></html>
